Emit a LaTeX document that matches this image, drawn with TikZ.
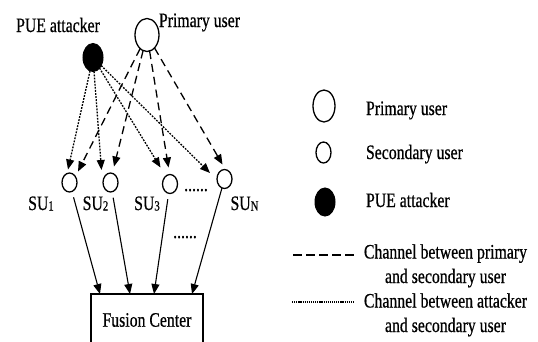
\documentclass[tikz,border=0pt]{standalone}
\usepackage{fontspec}
\setmainfont{Liberation Serif}[FakeStretch=0.77,FakeBold=0.6]
\usetikzlibrary{arrows.meta,shapes.geometric}

% small index for the secondary-user labels
\newcommand\suidx[1]{\raisebox{-0.5pt}{\fontsize{14}{14}\selectfont #1}}

\begin{document}
\begin{tikzpicture}[x=1pt,y=-1pt,
  every node/.style={font=\fontsize{20.5}{24.5}\selectfont, inner sep=0pt, outer sep=0pt},
  usr/.style={ellipse, draw, line width=1.3pt, fill=white},
  puser/.style={usr, minimum width=24pt, minimum height=33pt},
  suser/.style={usr, minimum width=15pt, minimum height=19pt},
  attk/.style={ellipse, draw, fill=black, line width=1pt, minimum width=20pt, minimum height=28pt},
  tip/.style={-{Triangle[length=10pt,width=8pt]}},
  pulink/.style={tip, line width=1.3pt, dash pattern=on 8pt off 5pt},
  atlink/.style={tip, line width=1.3pt, dash pattern=on 1.8pt off 1.3pt},
  fclink/.style={tip, line width=1.1pt},
]
\useasboundingbox (0,0) rectangle (538,341);
\clip (0,0) rectangle (538,341);

% ---- network ----
\node[puser] (pu) at (147,35) {};
\node[attk] (att) at (93,57.5) {};
\node[anchor=base] (lpu) at (199.5,27) {Primary user};
\node[anchor=base] (latt) at (58,32) {PUE attacker};

\node[suser] (su1) at (69.5,182.5) {};
\node[suser] (su2) at (110.5,182.5) {};
\node[suser] (su3) at (170,184) {};
\node[suser] (sun) at (224.5,179) {};

\node[anchor=base] (lsu1) at (41,210) {SU\suidx{1}};
\node[anchor=base] (lsu2) at (95.5,210) {SU\suidx{2}};
\node[anchor=base] (lsu3) at (147,210) {SU\suidx{3}};
\node[anchor=base] (lsun) at (244.5,210) {SU\suidx{N}};
\node[anchor=base] (dots1) at (196,191) {......};
\node[anchor=base] (dots2) at (185,238) {......};

\node[draw, line width=1.4pt, minimum width=112pt, minimum height=52pt] (fc) at (147,320) {Fusion Center};

% arrow tips near the secondary users
\coordinate (a1) at (68,169.5);
\coordinate (p1) at (78,171.5);
\coordinate (a2) at (101.5,170);
\coordinate (p2) at (114,166.5);
\coordinate (a3) at (160.5,167.5);
\coordinate (p3) at (168.5,167.5);
\coordinate (a4) at (210,173);
\coordinate (p4) at (222.5,164.5);

% arrow tips on the fusion center
\coordinate (f1) at (100,294);
\coordinate (f2) at (130,294);
\coordinate (f3) at (154,294);
\coordinate (f4) at (192,294);

% primary user to secondary users
\draw[pulink] (pu) -- (p1);
\draw[pulink] (pu) -- (p2);
\draw[pulink] (pu) -- (p3);
\draw[pulink] (pu) -- (p4);

% attacker to secondary users
\draw[atlink] (att) -- (a1);
\draw[atlink] (att) -- (a2);
\draw[atlink] (att) -- (a3);
\draw[atlink] (att) -- (a4);

% reports to the fusion center
\draw[fclink, shorten <=6pt] (su1) -- (f1);
\draw[fclink, shorten <=6pt] (su2) -- (f2);
\draw[fclink, shorten <=6pt] (su3) -- (f3);
\draw[fclink] (sun) -- (f4);

% ---- legend ----
\node[puser, minimum width=22pt, minimum height=32pt] (kpu) at (324,106) {};
\node[suser, minimum height=21pt] (ksu) at (323.5,152.5) {};
\node[attk] (katt) at (325,202) {};
\node[anchor=base west] (kpul) at (366,115) {Primary user};
\node[anchor=base west] (ksul) at (366,159) {Secondary user};
\node[anchor=base west] (kattl) at (366,207) {PUE attacker};

\coordinate (kd1) at (293,255);
\coordinate (kd2) at (355,255);
\draw[line width=2pt, dash pattern=on 9pt off 4pt] (kd1) -- (kd2);
\node[anchor=base, align=center] (kdl) at (445.5,283) {Channel between primary\\and secondary user};

\coordinate (kt1) at (292,302);
\coordinate (kt2) at (354,302);
\draw[line width=1.8pt, dash pattern=on 1.2pt off 0.9pt] (kt1) -- (kt2);
\node[anchor=base, align=center] (ktl) at (445.5,332) {Channel between attacker\\and secondary user};
\end{tikzpicture}
\end{document}
